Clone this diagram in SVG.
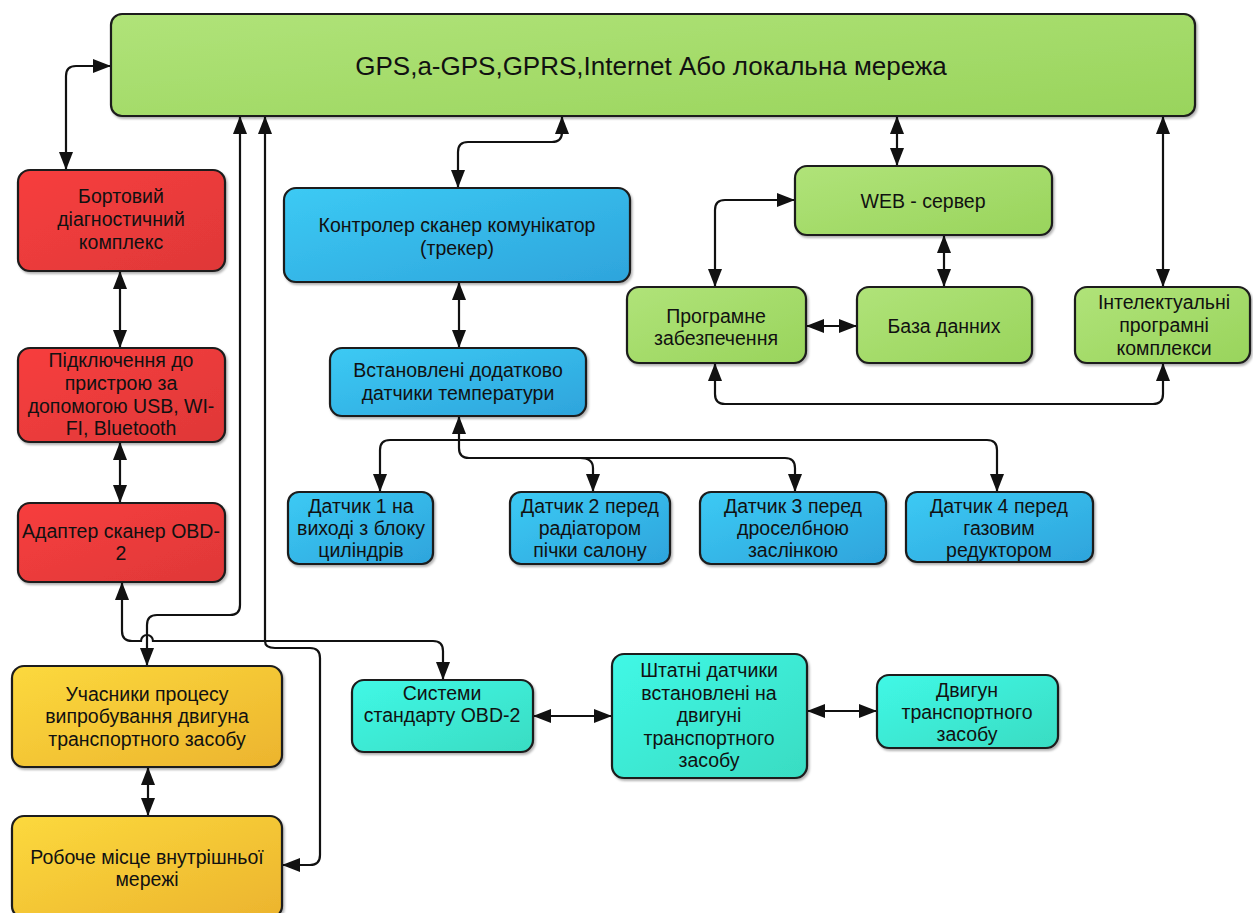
<svg xmlns="http://www.w3.org/2000/svg" width="1253" height="913" viewBox="0 0 1253 913">
<style>
.box{stroke:#1b1b1b;stroke-width:2.2;filter:url(#sh)}
.t{font-family:"Liberation Sans",Arial,sans-serif;font-size:19.5px;fill:#111;text-anchor:middle}
.big{font-size:26px}
.c{fill:none;stroke:#111;stroke-width:2.2}
.b{marker-start:url(#ah);marker-end:url(#ah)}
.e{marker-end:url(#ah)}
.s{marker-start:url(#ah)}
</style>
<defs>
<filter id="sh" x="-10%" y="-10%" width="120%" height="130%"><feDropShadow dx="1.5" dy="2" stdDeviation="1.2" flood-opacity="0.3"/></filter>
<marker id="ah" markerUnits="userSpaceOnUse" markerWidth="19" markerHeight="14" refX="18" refY="7" orient="auto-start-reverse" viewBox="0 0 19 14"><path d="M0,0 L18,7 L0,14 z" fill="#111"/></marker>
<linearGradient id="gG" x1="0" y1="0" x2="1" y2="1"><stop offset="0" stop-color="#b0e379"/><stop offset="1" stop-color="#99d45c"/></linearGradient>
<linearGradient id="gR" x1="0" y1="0" x2="1" y2="1"><stop offset="0" stop-color="#f73e3e"/><stop offset="1" stop-color="#df3838"/></linearGradient>
<linearGradient id="gB" x1="0" y1="0" x2="1" y2="1"><stop offset="0" stop-color="#3ccaf4"/><stop offset="1" stop-color="#2ea4dc"/></linearGradient>
<linearGradient id="gC" x1="0" y1="0" x2="1" y2="1"><stop offset="0" stop-color="#40f8e6"/><stop offset="1" stop-color="#39dcc2"/></linearGradient>
<linearGradient id="gY" x1="0" y1="0" x2="1" y2="1"><stop offset="0" stop-color="#fcd93d"/><stop offset="1" stop-color="#ecb42e"/></linearGradient>
</defs>
<rect width="1253" height="913" fill="#fff"/>

<g id="connectors">
<path class="c b" d="M66,170 V76 Q66,66 76,66 H111"/>
<path class="c b" d="M120,271 V348"/>
<path class="c b" d="M120,442 V503"/>
<path class="c b" d="M122,582 V631 Q122,641 132,641 H141 A6,6 0 0 1 153,641 H433 Q443,641 443,651 V680"/>
<path class="c b" d="M240,116 V605 Q240,615 230,615 H157 Q147,615 147,625 V666"/>
<path class="c s" d="M265,116 V641"/>
<path class="c e" d="M265,641 Q265,648 275,648 H310 Q320,648 320,658 V855 Q320,865 310,865 H282"/>
<path class="c b" d="M458,188 V152 Q458,142 468,142 H552 Q562,142 562,132 V116"/>
<path class="c b" d="M459,282 V348"/>
<path class="c b" d="M459,416 V448 Q459,458 469,458 H785 Q795,458 795,468 V492"/>
<path class="c e" d="M580,458 Q593,458 593,468 V492"/>
<path class="c b" d="M380,492 V450 Q380,440 390,440 H987 Q997,440 997,450 V492"/>
<path class="c b" d="M897,116 V166"/>
<path class="c b" d="M1163,116 V287"/>
<path class="c b" d="M795,200 H725 Q715,200 715,210 V287"/>
<path class="c b" d="M944,235 V287"/>
<path class="c b" d="M806,326 H857"/>
<path class="c b" d="M715,363 V394 Q715,404 725,404 H1153 Q1163,404 1163,394 V363"/>
<path class="c b" d="M533,716 H612"/>
<path class="c b" d="M807,711 H877"/>
<path class="c b" d="M148,767 V816"/>
</g>

<g id="n-top"><rect class="box" x="111" y="14" width="1084" height="102" rx="11" fill="url(#gG)"/>
<text class="t big" x="651" y="75">GPS,a-GPS,GPRS,Internet Або локальна мережа</text></g>

<g id="n-bort"><rect class="box" x="18" y="170" width="207" height="101" rx="12" fill="url(#gR)"/>
<text class="t" x="121" y="203">Бортовий</text><text class="t" x="121" y="226">діагностичний</text><text class="t" x="121" y="249">комплекс</text></g>

<g id="n-conn"><rect class="box" x="18" y="348" width="207" height="94" rx="12" fill="url(#gR)"/>
<text class="t" x="121" y="367">Підключення до</text><text class="t" x="121" y="390">пристрою за</text><text class="t" x="121" y="413">допомогою USB, WI-</text><text class="t" x="121" y="435">FI, Bluetooth</text></g>

<g id="n-adapt"><rect class="box" x="18" y="503" width="207" height="79" rx="12" fill="url(#gR)"/>
<text class="t" x="121" y="538">Адаптер сканер OBD-</text><text class="t" x="121" y="560">2</text></g>

<g id="n-uch"><rect class="box" x="12" y="666" width="270" height="101" rx="12" fill="url(#gY)"/>
<text class="t" x="147" y="701">Учасники процесу</text><text class="t" x="147" y="723">випробування двигуна</text><text class="t" x="147" y="746">транспортного засобу</text></g>

<g id="n-rob"><rect class="box" x="12" y="816" width="270" height="102" rx="12" fill="url(#gY)"/>
<text class="t" x="147" y="864">Робоче місце внутрішньої</text><text class="t" x="147" y="886">мережі</text></g>

<g id="n-ctrl"><rect class="box" x="284" y="188" width="346" height="94" rx="12" fill="url(#gB)"/>
<text class="t" x="457" y="232">Контролер сканер комунікатор</text><text class="t" x="457" y="255">(трекер)</text></g>

<g id="n-vst"><rect class="box" x="330" y="348" width="256" height="68" rx="12" fill="url(#gB)"/>
<text class="t" x="458" y="377">Встановлені додатково</text><text class="t" x="458" y="400">датчики температури</text></g>

<g id="n-s1"><rect class="box" x="288" y="492" width="145" height="72" rx="11" fill="url(#gB)"/>
<text class="t" x="361" y="513">Датчик 1 на</text><text class="t" x="361" y="535">виході з блоку</text><text class="t" x="361" y="557">циліндрів</text></g>

<g id="n-s2"><rect class="box" x="510" y="492" width="160" height="72" rx="11" fill="url(#gB)"/>
<text class="t" x="590" y="513">Датчик 2 перед</text><text class="t" x="590" y="535">радіатором</text><text class="t" x="590" y="557">пічки салону</text></g>

<g id="n-s3"><rect class="box" x="700" y="492" width="186" height="72" rx="11" fill="url(#gB)"/>
<text class="t" x="793" y="513">Датчик 3 перед</text><text class="t" x="793" y="535">дроселбною</text><text class="t" x="793" y="557">заслінкою</text></g>

<g id="n-s4"><rect class="box" x="906" y="492" width="187" height="70" rx="11" fill="url(#gB)"/>
<text class="t" x="999" y="513">Датчик 4 перед</text><text class="t" x="999" y="535">газовим</text><text class="t" x="999" y="557">редуктором</text></g>

<g id="n-obd"><rect class="box" x="352" y="680" width="181" height="72" rx="12" fill="url(#gC)"/>
<text class="t" x="442" y="700">Системи</text><text class="t" x="442" y="722">стандарту OBD-2</text></g>

<g id="n-sht"><rect class="box" x="612" y="654" width="195" height="124" rx="12" fill="url(#gC)"/>
<text class="t" x="709" y="677">Штатні датчики</text><text class="t" x="709" y="700">встановлені на</text><text class="t" x="709" y="722">двигуні</text><text class="t" x="709" y="745">транспортного</text><text class="t" x="709" y="767">засобу</text></g>

<g id="n-dv"><rect class="box" x="877" y="675" width="181" height="73" rx="12" fill="url(#gC)"/>
<text class="t" x="967" y="697">Двигун</text><text class="t" x="967" y="719">транспортного</text><text class="t" x="967" y="741">засобу</text></g>

<g id="n-web"><rect class="box" x="795" y="166" width="257" height="69" rx="12" fill="url(#gG)"/>
<text class="t" x="923" y="208">WEB - сервер</text></g>

<g id="n-prog"><rect class="box" x="627" y="287" width="179" height="76" rx="12" fill="url(#gG)"/>
<text class="t" x="716" y="323">Програмне</text><text class="t" x="716" y="345">забезпечення</text></g>

<g id="n-db"><rect class="box" x="857" y="287" width="175" height="76" rx="12" fill="url(#gG)"/>
<text class="t" x="944" y="333">База данних</text></g>

<g id="n-int"><rect class="box" x="1075" y="287" width="175" height="76" rx="12" fill="url(#gG)"/>
<text class="t" x="1164" y="309">Інтелектуальні</text><text class="t" x="1164" y="332">програмні</text><text class="t" x="1164" y="355">комплекси</text></g>
</svg>
